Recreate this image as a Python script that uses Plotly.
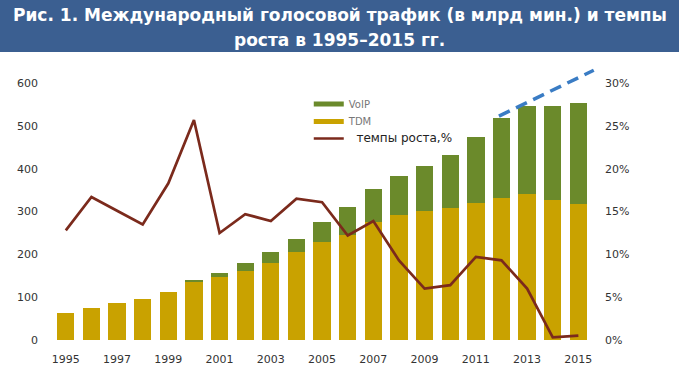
import plotly.graph_objects as go

years = list(range(1995, 2016))
tdm = [62, 74, 86, 95, 111, 136, 148, 162, 180, 205, 228, 245, 276, 292, 302, 309, 321, 332, 340, 328, 318]
total = [62, 74, 86, 95, 111, 140, 157, 181, 205, 237, 275, 311, 353, 383, 406, 432, 475, 518, 547, 547, 553]
voip = [t - d for t, d in zip(total, tdm)]
growth = [0.128, 0.167, 0.151, 0.135, 0.183, 0.257, 0.125, 0.147, 0.139, 0.165, 0.161,
          0.122, 0.139, 0.093, 0.060, 0.064, 0.097, 0.093, 0.060, 0.003, 0.005]
trend_x = [2011.9, 2015.6]
trend_y = [523, 630]
x_ticks = list(range(1995, 2016, 2))
left_ticks = [0, 100, 200, 300, 400, 500, 600]
right_ticks = [0, 0.05, 0.10, 0.15, 0.20, 0.25, 0.30]
title_lines = ["Рис. 1. Международный голосовой трафик (в млрд мин.) и темпы",
               "роста в 1995–2015 гг."]

TDM_C = "#c9a200"
VOIP_C = "#6b8a2b"
LINE_C = "#7b2a1c"
BLUE = "#3b5f91"

W, H = 679, 389
ml, mr, mt, mb = 53, 74.5, 66, 49
pw = W - ml - mr
ph = H - mt - mb


def py(ypix):
    return (H - mb - ypix) / ph


fig = go.Figure()
fig.add_trace(go.Bar(x=years, y=tdm, marker_color=TDM_C, marker_line_width=0, showlegend=False, hoverinfo="skip"))
fig.add_trace(go.Bar(x=years, y=voip, marker_color=VOIP_C, marker_line_width=0, showlegend=False, hoverinfo="skip"))
fig.add_trace(go.Scatter(x=trend_x, y=trend_y, mode="lines", line=dict(color="#3a7cc4", width=3.5, dash="12px,7px"),
                         showlegend=False, hoverinfo="skip"))
fig.add_trace(go.Scatter(x=years, y=growth, yaxis="y2", mode="lines", line=dict(color=LINE_C, width=2.7),
                         showlegend=False))
# legend entries (each in its own legend box for exact spacing)
fig.add_trace(go.Scatter(x=[None], y=[None], mode="lines", line=dict(color=VOIP_C, width=5),
                         name="<span style='color:#777'>VoIP</span>", legend="legend"))
fig.add_trace(go.Scatter(x=[None], y=[None], mode="lines", line=dict(color=TDM_C, width=5),
                         name="<span style='color:#777'>TDM</span>", legend="legend2"))
fig.add_trace(go.Scatter(x=[None], y=[None], mode="lines", line=dict(color=LINE_C, width=2.7),
                         name="<span style='font-size:12px;color:#222'>&nbsp;&nbsp;темпы роста,%</span>",
                         legend="legend3"))

fig.add_shape(type="rect", xref="paper", yref="paper",
              x0=-ml / pw - 0.01, x1=1 + mr / pw + 0.01,
              y0=py(52), y1=py(-2),
              fillcolor=BLUE, line_width=0, layer="below")

for txt, yc in zip(title_lines, [15, 40]):
    fig.add_annotation(text=txt, xref="paper", yref="paper", x=(340 - ml) / pw, y=py(yc),
                       xanchor="center", yanchor="middle", showarrow=False,
                       font=dict(family="DejaVu Sans", size=17, color="white", weight="bold"))

leg_common = dict(x=(309 - ml) / pw, xanchor="left", yanchor="middle", bgcolor="rgba(0,0,0,0)",
                  font=dict(size=10, color="#777"), itemclick=False)

fig.update_layout(
    width=W, height=H,
    margin=dict(l=ml, r=mr, t=mt, b=mb),
    paper_bgcolor="white", plot_bgcolor="white",
    barmode="stack", bargap=0.325,
    font=dict(family="DejaVu Sans", size=11, color="#333"),
    xaxis=dict(range=[1994.5, 2016.0], tickvals=x_ticks, showgrid=False, zeroline=False, showline=False,
               ticks="", ticklabelstandoff=11, tickfont=dict(size=11, color="#333")),
    yaxis=dict(range=[0, 640], tickvals=left_ticks, showgrid=False, zeroline=False, showline=False,
               ticks="", ticklabelstandoff=14, tickfont=dict(size=11, color="#333")),
    yaxis2=dict(range=[0, 0.32], tickvals=right_ticks, tickformat=".0%", overlaying="y", side="right",
                showgrid=False, zeroline=False, showline=False, ticks="", ticklabelstandoff=0,
                tickfont=dict(size=11, color="#333")),
    legend=dict(y=py(104), **leg_common),
    legend2=dict(y=py(121.5), **leg_common),
    legend3=dict(y=py(138.5), **leg_common),
)

fig.write_html("out.html", config={"displayModeBar": False},
               post_script="document.body.style.margin='0';document.body.style.padding='0';")
